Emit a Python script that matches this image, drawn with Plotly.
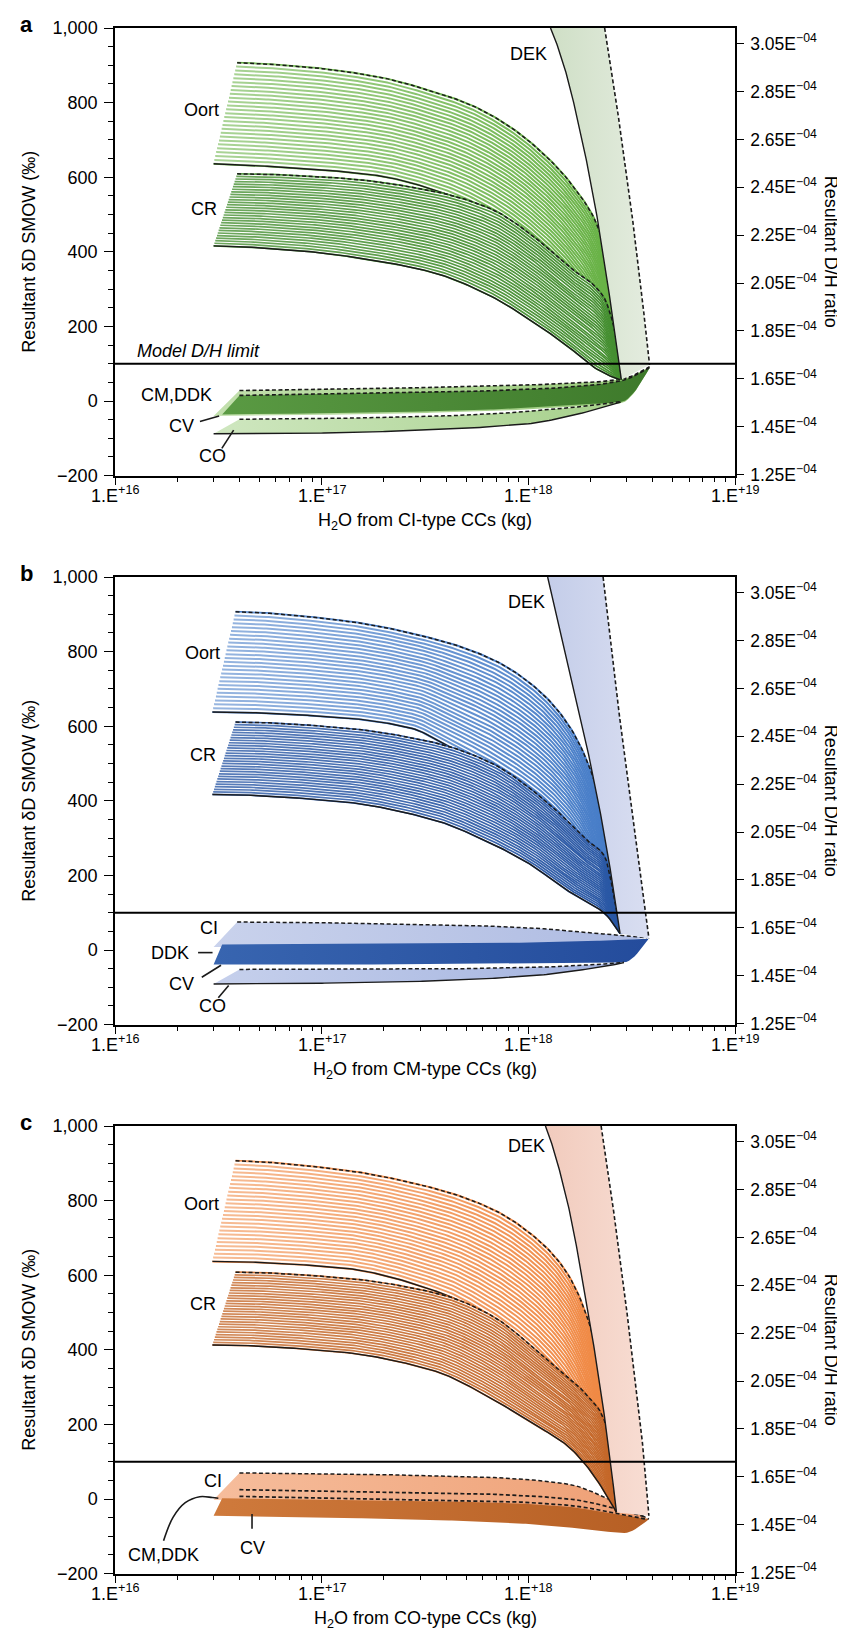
import numpy as np
import plotly.graph_objects as go

# ---------------------------------------------------------------- data
# x values: kg of H2O; y values: resultant dD (permil SMOW)
VSMOW_DH = 1.5576e-4
MODEL_LIMIT = 100

X_TICKS = [1e16, 1e17, 1e18, 1e19]
X_TICK_TEXT = ["1.E<sup>+16</sup>", "1.E<sup>+17</sup>", "1.E<sup>+18</sup>", "1.E<sup>+19</sup>"]
Y_TICKS = [-200, 0, 200, 400, 600, 800, 1000]
Y_TICK_TEXT = ["\u2212200", "0", "200", "400", "600", "800", "1,000"]
DH_TICKS = [1.25e-4, 1.45e-4, 1.65e-4, 1.85e-4, 2.05e-4, 2.25e-4, 2.45e-4, 2.65e-4, 2.85e-4, 3.05e-4]
DH_TICK_TEXT = ["%.2fE<sup>\u221204</sup>" % (v * 1e4) for v in DH_TICKS]
PANEL_LETTERS = ["a", "b", "c"]
X_TITLES = ["H<sub>2</sub>O from CI-type CCs (kg)",
            "H<sub>2</sub>O from CM-type CCs (kg)",
            "H<sub>2</sub>O from CO-type CCs (kg)"]

# ----- panel a (CI-type)
A_OORT_TOP_X = [3.9e16, 7.8e16, 1.83e17, 3.48e17, 5.3e17, 8.15e17, 1.25e18, 1.68e18, 2.22e18, 2.51e18, 2.75e18, 2.88e18]
A_OORT_TOP_Y = [907, 897, 870, 829, 793, 735, 650, 569, 452, 300, 150, 58]
A_OORT_BOT_X = [3.0e16, 7.8e16, 1.83e17, 3.78e17, 6.6e17, 1.01e18, 1.55e18, 2.17e18, 2.78e18]
A_OORT_BOT_Y = [636, 624, 605, 560, 497, 425, 326, 210, 57]
A_CR_TOP_X = [3.9e16, 1.2e17, 3.5e17, 6.6e17, 1.0e18, 1.55e18, 2.3e18, 2.66e18, 2.82e18]
A_CR_TOP_Y = [609, 598, 562, 515, 452, 362, 281, 170, 57]
A_CR_BOT_X = [3.0e16, 7.8e16, 1.83e17, 3.48e17, 6.6e17, 1.01e18, 1.55e18, 2.17e18, 2.78e18]
A_CR_BOT_Y = [416, 403, 376, 344, 281, 219, 147, 84, 57]
A_DEK_L_X = [1.28e18, 1.5e18, 1.8e18, 2.09e18, 2.43e18, 2.82e18]
A_DEK_L_Y = [1000, 892, 712, 533, 308, 57]
A_DEK_R_X = [2.34e18, 2.81e18, 3.27e18, 3.58e18, 3.79e18, 3.86e18]
A_DEK_R_Y = [1000, 713, 443, 263, 129, 97]
A_CM_TOP_X = [4.0e16, 1.0e17, 3.2e17, 1.0e18, 2.0e18, 2.8e18, 3.86e18]
A_CM_TOP_Y = [28, 31, 36, 43, 50, 58, 92]
A_CM_BOT_X = [3.0e16, 1.0e17, 3.2e17, 1.0e18, 2.0e18, 2.8e18, 3.86e18]
A_CM_BOT_Y = [-40, -37, -32, -23, -12, -6, 90]
A_CV_TOP_X = [4.0e16, 1.0e17, 3.2e17, 1.0e18, 2.0e18, 2.8e18, 3.86e18]
A_CV_TOP_Y = [15, 18, 23, 31, 42, 54, 90]
A_CV_BOT_X = [3.3e16, 1.0e17, 3.2e17, 1.0e18, 2.0e18, 2.8e18, 3.86e18]
A_CV_BOT_Y = [-36, -33, -28, -19, -8, -3, 88]
A_CO_TOP_X = [4.0e16, 1.0e17, 3.0e17, 6.5e17, 1.0e18, 1.6e18, 2.2e18, 2.8e18]
A_CO_TOP_Y = [-49, -47, -42, -35, -28, -18, -9, -2]
A_CO_BOT_X = [3.0e16, 1.0e17, 2.8e17, 1.0e18, 1.6e18, 2.2e18, 2.8e18]
A_CO_BOT_Y = [-88, -86, -79, -61, -40, -20, -3]

# ----- panel b (CM-type)
B_OORT_TOP_X = [3.83e16, 1.19e17, 3.44e17, 6.53e17, 1.0e18, 1.53e18, 2.15e18, 2.51e18, 2.72e18, 2.85e18]
B_OORT_TOP_Y = [907, 885, 835, 782, 719, 611, 431, 250, 130, 44]
B_OORT_BOT_X = [2.96e16, 1.19e17, 2.78e17, 3.75e17, 6.53e17, 1.24e18, 1.9e18, 2.55e18, 2.78e18]
B_OORT_BOT_Y = [638, 624, 593, 557, 485, 377, 260, 107, 44]
B_CR_TOP_X = [3.83e16, 1.19e17, 3.44e17, 6.53e17, 1.24e18, 1.9e18, 2.34e18, 2.67e18, 2.81e18]
B_CR_TOP_Y = [611, 597, 557, 503, 395, 296, 251, 107, 44]
B_CR_BOT_X = [2.96e16, 1.19e17, 3.44e17, 6.53e17, 1.0e18, 1.53e18, 2.34e18, 2.78e18]
B_CR_BOT_Y = [417, 399, 350, 287, 233, 161, 98, 44]
B_DEK_L_X = [1.24e18, 1.53e18, 1.9e18, 2.34e18, 2.78e18]
B_DEK_L_Y = [1000, 782, 557, 305, 44]
B_DEK_R_X = [2.3e18, 2.67e18, 3.16e18, 3.6e18, 3.83e18]
B_DEK_R_Y = [1000, 692, 377, 152, 31]
B_CI_TOP_X = [3.9e16, 2.8e17, 1.0e18, 1.9e18, 2.45e18, 3.75e18]
B_CI_TOP_Y = [75, 69, 60, 46, 42, 33]
B_CI_BOT_X = [3.0e16, 3.0e17, 1.0e18, 2.0e18, 3.0e18, 3.75e18]
B_CI_BOT_Y = [8, 10, 14, 20, 26, 33]
B_DDK_TOP_X = [3.3e16, 3.0e17, 1.0e18, 2.0e18, 3.0e18, 3.8e18]
B_DDK_TOP_Y = [15, 17, 20, 24, 28, 30]
B_DDK_BOT_X = [3.0e16, 3.0e17, 1.0e18, 2.0e18, 2.9e18, 3.8e18]
B_DDK_BOT_Y = [-39, -39, -36, -34, -33, 28]
B_CO_TOP_X = [4.0e16, 3.0e17, 1.0e18, 2.0e18, 2.9e18]
B_CO_TOP_Y = [-52, -51, -47, -40, -33]
B_CO_BOT_X = [3.0e16, 1.0e17, 3.0e17, 1.0e18, 2.0e18, 2.9e18]
B_CO_BOT_Y = [-91, -89, -84, -70, -50, -34]

# ----- panel c (CO-type)
C_OORT_TOP_X = [3.83e16, 1.19e17, 3.44e17, 6.53e17, 1.0e18, 1.53e18, 2.15e18, 2.45e18, 2.67e18, 2.75e18]
C_OORT_TOP_Y = [907, 884, 834, 780, 716, 608, 399, 218, 60, -36]
C_OORT_BOT_X = [2.96e16, 1.19e17, 3.75e17, 6.53e17, 1.24e18, 1.9e18, 2.34e18, 2.67e18]
C_OORT_BOT_Y = [637, 621, 553, 481, 354, 209, 82, -36]
C_CR_TOP_X = [3.83e16, 1.19e17, 3.75e17, 6.53e17, 1.24e18, 1.9e18, 2.34e18, 2.67e18]
C_CR_TOP_Y = [608, 594, 549, 494, 372, 281, 209, -36]
C_CR_BOT_X = [2.96e16, 1.19e17, 3.44e17, 6.53e17, 1.0e18, 1.53e18, 1.9e18, 2.34e18, 2.67e18]
C_CR_BOT_Y = [413, 395, 345, 272, 209, 145, 91, 19, -36]
C_DEK_L_X = [1.21e18, 1.53e18, 1.9e18, 2.34e18, 2.67e18]
C_DEK_L_Y = [1000, 807, 535, 218, -36]
C_DEK_R_X = [2.25e18, 2.67e18, 3.16e18, 3.6e18, 3.83e18]
C_DEK_R_Y = [1000, 716, 399, 127, -45]
C_CI_TOP_X = [4.0e16, 1.6e17, 6.5e17, 1.55e18, 2.45e18, 3.83e18]
C_CI_TOP_Y = [70, 66, 58, 40, 0, -54]
C_CI_BOT_X = [3.0e16, 1.6e17, 6.5e17, 1.58e18, 2.34e18, 3.83e18]
C_CI_BOT_Y = [-2, -6, -12, -24, -38, -54]
C_DASH1_X = [4.0e16, 1.6e17, 6.5e17, 1.58e18, 2.34e18, 3.7e18]
C_DASH1_Y = [25, 20, 13, 0, -18, -49]
C_DASH2_X = [4.0e16, 1.6e17, 6.5e17, 1.58e18, 2.34e18, 3.7e18]
C_DASH2_Y = [7, 1, -5, -17, -32, -54]
C_CV_TOP_X = [3.3e16, 1.6e17, 6.5e17, 1.58e18, 2.34e18, 3.83e18]
C_CV_TOP_Y = [2, -3, -9, -21, -36, -54]
C_CV_BOT_X = [3.0e16, 1.0e17, 2.5e17, 1.0e18, 2.0e18, 2.9e18, 3.83e18]
C_CV_BOT_Y = [-45, -50, -54, -67, -82, -91, -54]

# ---------------------------------------------------------------- helpers
def pchip(x, y, xn):
    x = np.asarray(x, float); y = np.asarray(y, float); xn = np.asarray(xn, float)
    n = len(x)
    h = np.diff(x)
    d = np.diff(y) / h
    m = np.zeros(n)
    if n == 2:
        m[:] = d[0]
    else:
        for k in range(1, n - 1):
            if d[k - 1] * d[k] > 0:
                w1 = 2 * h[k] + h[k - 1]
                w2 = h[k] + 2 * h[k - 1]
                m[k] = (w1 + w2) / (w1 / d[k - 1] + w2 / d[k])

        def end(h0, h1, d0, d1):
            v = ((2 * h0 + h1) * d0 - h0 * d1) / (h0 + h1)
            if np.sign(v) != np.sign(d0):
                v = 0.0
            elif np.sign(d0) != np.sign(d1) and abs(v) > abs(3 * d0):
                v = 3 * d0
            return v
        m[0] = end(h[0], h[1], d[0], d[1])
        m[-1] = end(h[-1], h[-2], d[-1], d[-2])
    i = np.clip(np.searchsorted(x, xn, side="right") - 1, 0, n - 2)
    t = (xn - x[i]) / h[i]
    t2, t3 = t * t, t * t * t
    return ((2 * t3 - 3 * t2 + 1) * y[i] + (t3 - 2 * t2 + t) * h[i] * m[i]
            + (-2 * t3 + 3 * t2) * y[i + 1] + (t3 - t2) * h[i] * m[i + 1])


def smooth(xs, ys, n=160):
    lx = np.log10(np.asarray(xs, float))
    s = np.linspace(lx[0], lx[-1], n)
    return s, pchip(lx, ys, s)


def polygon(top, bot):
    lt, yt = smooth(*top)
    lb, yb = smooth(*bot)
    lx = np.concatenate([lt, lb[::-1], lt[:1]])
    yy = np.concatenate([yt, yb[::-1], yt[:1]])
    return 10 ** lx, yy


def hatch(top, bot, n_lines):
    lt, yt = smooth(*top)
    lb, yb = smooth(*bot)
    X, Y = [], []
    for k in range(n_lines + 1):
        f = k / n_lines
        X += list(10 ** ((1 - f) * lb + f * lt)) + [None]
        Y += list((1 - f) * yb + f * yt) + [None]
    return X, Y


fig = go.Figure()
W, H = 845, 1640
PLOT_L, PLOT_R = 107, 727
PANEL_TOPS = [20, 569, 1118]
PLOT_H = 447.6
FONT = "Liberation Sans, Arial, Helvetica, sans-serif"
INK = "#1a1a1a"
FS = 18


def add(tr, i):
    tr.update(xaxis="x" if i == 0 else "x%d" % (i + 1),
              yaxis="y" if i == 0 else "y%d" % (i + 1),
              showlegend=False, hoverinfo="skip")
    fig.add_trace(tr)


def fill_band(i, top, bot, c0, c1):
    px, py = polygon(top, bot)
    add(go.Scatter(x=px, y=py, mode="lines", fill="toself", line=dict(width=0),
                   fillcolor=c1,
                   fillgradient=dict(type="horizontal", colorscale=[[0, c0], [1, c1]])), i)


def line(i, curve, dash="solid", width=1.3, color=INK):
    lx, yy = smooth(*curve)
    add(go.Scatter(x=10 ** lx, y=yy, mode="lines",
                   line=dict(color=color, width=width, dash=dash)), i)


DASH = "4px,2.5px"


def hatched_band(i, top, bot, color, n, width, white_base, fade):
    if white_base:
        fill_band(i, top, bot, "#ffffff", "#ffffff")
    hx, hy = hatch(top, bot, n)
    add(go.Scatter(x=hx, y=hy, mode="lines", line=dict(color=color, width=width)), i)
    fill_band(i, top, bot, "rgba(255,255,255,%.2f)" % fade, "rgba(255,255,255,0)")
    line(i, top, DASH, 1.5)
    line(i, bot, "solid", 1.4)


PAL = [
    dict(oort="#66b143", cr="#458f31", dek0="#cfdfc6", dek1="#e4ecdf",
         l0="#c3e0ae", l1="#97c878", d0="#5a9a43", d1="#3e7a2b", o0="#cfe7c0", o1="#a6d08b"),
    dict(oort="#447bc7", cr="#2a58a5", dek0="#c4cde9", dek1="#d9def1",
         l0="#c9d2ec", l1="#aebbe2", d0="#3865b0", d1="#244c9c", o0="#c6d0ec", o1="#a3b3df"),
    dict(oort="#f08741", cr="#c5682a", dek0="#f1cbbd", dek1="#f8ddd3",
         l0="#f6bd9c", l1="#ee9f74", d0="#cf7a3c", d1="#b65f24", o0="#f6bd9c", o1="#ee9f74"),
]

UPPER = [
    dict(ot=(A_OORT_TOP_X, A_OORT_TOP_Y), ob=(A_OORT_BOT_X, A_OORT_BOT_Y),
         ct=(A_CR_TOP_X, A_CR_TOP_Y), cb=(A_CR_BOT_X, A_CR_BOT_Y),
         dl=(A_DEK_L_X, A_DEK_L_Y), dr=(A_DEK_R_X, A_DEK_R_Y)),
    dict(ot=(B_OORT_TOP_X, B_OORT_TOP_Y), ob=(B_OORT_BOT_X, B_OORT_BOT_Y),
         ct=(B_CR_TOP_X, B_CR_TOP_Y), cb=(B_CR_BOT_X, B_CR_BOT_Y),
         dl=(B_DEK_L_X, B_DEK_L_Y), dr=(B_DEK_R_X, B_DEK_R_Y)),
    dict(ot=(C_OORT_TOP_X, C_OORT_TOP_Y), ob=(C_OORT_BOT_X, C_OORT_BOT_Y),
         ct=(C_CR_TOP_X, C_CR_TOP_Y), cb=(C_CR_BOT_X, C_CR_BOT_Y),
         dl=(C_DEK_L_X, C_DEK_L_Y), dr=(C_DEK_R_X, C_DEK_R_Y)),
]

# ---------------- lower groups (drawn first)
p = PAL[0]
fill_band(0, (A_CM_TOP_X, A_CM_TOP_Y), (A_CM_BOT_X, A_CM_BOT_Y), p["l0"], p["l1"])
fill_band(0, (A_CV_TOP_X, A_CV_TOP_Y), (A_CV_BOT_X, A_CV_BOT_Y), p["d0"], p["d1"])
fill_band(0, (A_CO_TOP_X, A_CO_TOP_Y), (A_CO_BOT_X, A_CO_BOT_Y), p["o0"], p["o1"])
line(0, (A_CM_TOP_X, A_CM_TOP_Y), DASH, 1.6)
line(0, (A_CV_TOP_X, A_CV_TOP_Y), DASH, 1.6)
line(0, (A_CO_TOP_X, A_CO_TOP_Y), DASH, 1.5)
line(0, (A_CO_BOT_X, A_CO_BOT_Y), "solid", 1.4)

p = PAL[1]
fill_band(1, (B_CI_TOP_X, B_CI_TOP_Y), (B_CI_BOT_X, B_CI_BOT_Y), p["l0"], p["l1"])
fill_band(1, (B_CO_TOP_X, B_CO_TOP_Y), (B_CO_BOT_X, B_CO_BOT_Y), p["o0"], p["o1"])
fill_band(1, (B_DDK_TOP_X, B_DDK_TOP_Y), (B_DDK_BOT_X, B_DDK_BOT_Y), p["d0"], p["d1"])
line(1, (B_CI_TOP_X, B_CI_TOP_Y), DASH, 1.5)
line(1, (B_CO_TOP_X, B_CO_TOP_Y), DASH, 1.5)
line(1, (B_CO_BOT_X, B_CO_BOT_Y), "solid", 1.4)

p = PAL[2]
fill_band(2, (C_CI_TOP_X, C_CI_TOP_Y), (C_CI_BOT_X, C_CI_BOT_Y), p["l0"], p["l1"])
fill_band(2, (C_CV_TOP_X, C_CV_TOP_Y), (C_CV_BOT_X, C_CV_BOT_Y), p["d0"], p["d1"])
line(2, (C_CI_TOP_X, C_CI_TOP_Y), DASH, 1.5)
line(2, (C_DASH1_X, C_DASH1_Y), DASH, 1.7)
line(2, (C_DASH2_X, C_DASH2_Y), DASH, 1.7)

# ---------------- upper bands
for i, u in enumerate(UPPER):
    p = PAL[i]
    hatched_band(i, u["ot"], u["ob"], p["oort"], 26, 2.0, False, 0.45)
    hatched_band(i, u["ct"], u["cb"], p["cr"], 28, 1.7, True, 0.22)
    fill_band(i, u["dl"], u["dr"], p["dek0"], p["dek1"])
    line(i, u["dl"], "solid", 1.4)
    line(i, u["dr"], DASH, 1.6)

# ---------------- leader lines for labels (log10 x, dD)
LEADERS = [
    [[(16.411, -55), (16.504, -40)], [(16.517, -127), (16.574, -78)]],
    [[(16.402, -7), (16.472, -7)], [(16.42, -73), (16.513, -41)], [(16.50, -128), (16.55, -95)]],
    [[(16.663, -40), (16.663, -80)]],
]
for i, group in enumerate(LEADERS):
    for seg in group:
        add(go.Scatter(x=[10 ** a for a, b in seg], y=[b for a, b in seg], mode="lines",
                       line=dict(color=INK, width=1.6)), i)
# curved leader in panel c
add(go.Scatter(x=[10 ** v for v in (16.235, 16.28, 16.34, 16.41, 16.47, 16.5)],
               y=[-112, -50, -10, 6, 4, 2], mode="lines", line_shape="spline",
               line=dict(color=INK, width=1.6)), 2)

# dummy traces to carry the right-hand axes
for i in range(3):
    fig.add_trace(go.Scatter(x=[1e17], y=[2e-4], mode="markers", marker=dict(opacity=0),
                             xaxis="x" if i == 0 else "x%d" % (i + 1), yaxis="y%d" % (i + 4),
                             showlegend=False, hoverinfo="skip"))

# ---------------- axes
layout = dict(width=W, height=H, margin=dict(l=0, r=0, t=0, b=0, autoexpand=False),
              paper_bgcolor="white", plot_bgcolor="white",
              font=dict(family=FONT, size=FS, color="black"), showlegend=False)
shapes, annotations = [], []
xd = [PLOT_L / W, PLOT_R / W]
minor_x = [k * 10 ** e for e in (16, 17, 18) for k in range(2, 10)]
for i, top in enumerate(PANEL_TOPS):
    bottom = top + PLOT_H
    yd = [1 - bottom / H, 1 - top / H]
    xn = "xaxis" if i == 0 else "xaxis%d" % (i + 1)
    yn = "yaxis" if i == 0 else "yaxis%d" % (i + 1)
    xr = "x" if i == 0 else "x%d" % (i + 1)
    yr = "y" if i == 0 else "y%d" % (i + 1)
    layout[xn] = dict(type="log", range=[16, 19], domain=xd, anchor=yr, automargin=False,
                      tickmode="array", tickvals=X_TICKS, showticklabels=False,
                      ticks="outside", ticklen=8, tickwidth=1.3, tickcolor="black",
                      minor=dict(tickmode="array", tickvals=minor_x, ticks="outside",
                                 ticklen=5, tickwidth=1.1, tickcolor="black"),
                      showline=True, linecolor="black", linewidth=1.5, mirror=True,
                      showgrid=False, zeroline=False)
    layout[yn] = dict(range=[-200, 1000], domain=yd, anchor=xr, automargin=False,
                      tickmode="array", tickvals=Y_TICKS, ticktext=Y_TICK_TEXT,
                      ticks="outside", ticklen=9, tickwidth=1.3, tickcolor="black",
                      ticklabelstandoff=3,
                      minor=dict(dtick=50, tick0=0, ticks="outside", ticklen=5,
                                 tickwidth=1.1, tickcolor="black"),
                      showline=True, linecolor="black", linewidth=1.5,
                      showgrid=False, zeroline=False, tickfont=dict(size=FS))
    layout["yaxis%d" % (i + 4)] = dict(range=[VSMOW_DH * 0.8, VSMOW_DH * 2.0], overlaying=yr,
                                       anchor=xr, side="right", automargin=False,
                                       tickmode="array", tickvals=DH_TICKS, ticktext=DH_TICK_TEXT,
                                       ticks="outside", ticklen=7, tickwidth=1.3, tickcolor="black",
                                       ticklabelstandoff=3,
                                       showline=True, linecolor="black", linewidth=1.5,
                                       showgrid=False, zeroline=False, tickfont=dict(size=17.5))
    shapes.append(dict(type="line", xref="%s domain" % xr, yref=yr, x0=0, x1=1,
                       y0=MODEL_LIMIT, y1=MODEL_LIMIT, line=dict(color="black", width=2)))
    mid = 1 - (top + PLOT_H / 2) / H
    annotations += [
        dict(text="<b>%s</b>" % PANEL_LETTERS[i], xref="paper", yref="paper", x=18 / W,
             y=1 - max(top - 4, 15) / H, showarrow=False, font=dict(size=22), xanchor="center",
             yanchor="middle"),
        dict(text="Resultant \u03b4D SMOW (\u2030)", xref="paper", yref="paper", x=21 / W, y=mid,
             textangle=-90, showarrow=False, xanchor="center", yanchor="middle", font=dict(size=FS)),
        dict(text="Resultant D/H ratio", xref="paper", yref="paper", x=823 / W, y=mid,
             textangle=90, showarrow=False, xanchor="center", yanchor="middle", font=dict(size=FS)),
        dict(text=X_TITLES[i], xref="paper", yref="paper", x=(PLOT_L + PLOT_R) / 2 / W,
             y=1 - (bottom + 46) / H, showarrow=False, xanchor="center", yanchor="middle",
             font=dict(size=FS)),
    ]
    for tv, tt in zip(X_TICKS, X_TICK_TEXT):
        annotations.append(dict(text=tt, xref=xr, yref="paper", x=np.log10(tv),
                                y=1 - (bottom + 19) / H, showarrow=False, xanchor="center",
                                yanchor="middle", font=dict(size=FS)))

LABELS = [
    [("Oort", 16.515, 780, "right"), ("CR", 16.505, 515, "right"), ("DEK", 18.1, 931, "right"),
     ("<i>Model D/H limit</i>", 16.096, 135, "left"), ("CM,DDK", 16.48, 15, "right"),
     ("CV", 16.39, -66, "right"), ("CO", 16.47, -147, "center")],
    [("Oort", 16.517, 795, "right"), ("CR", 16.5, 523, "right"), ("DEK", 18.09, 934, "right"),
     ("CI", 16.509, 58, "right"), ("DDK", 16.367, -9, "right"), ("CV", 16.32, -90, "center"),
     ("CO", 16.47, -149, "center")],
    [("Oort", 16.513, 792, "right"), ("CR", 16.5, 524, "right"), ("DEK", 18.09, 946, "right"),
     ("CI", 16.528, 49, "right"), ("CV", 16.663, -132, "center"), ("CM,DDK", 16.235, -150, "center")],
]
for i, labs in enumerate(LABELS):
    xr = "x" if i == 0 else "x%d" % (i + 1)
    yr = "y" if i == 0 else "y%d" % (i + 1)
    for text, lx, yv, anc in labs:
        annotations.append(dict(text=text, xref=xr, yref=yr, x=lx, y=yv, showarrow=False,
                                xanchor=anc, yanchor="middle", font=dict(size=FS)))

layout["shapes"] = shapes
layout["annotations"] = annotations
fig.update_layout(**layout)
fig.write_html("out.html")
